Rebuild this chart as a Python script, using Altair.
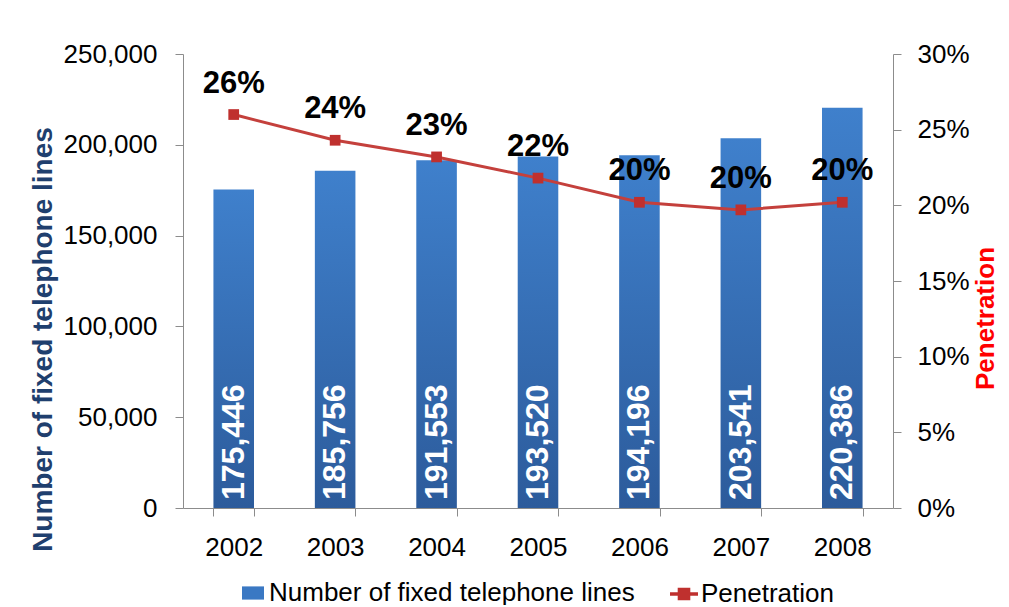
import altair as alt
import pandas as pd

years = ["2002", "2003", "2004", "2005", "2006", "2007", "2008"]
lines = [175446, 185756, 191553, 193520, 194196, 203541, 220386]
penetration = [0.260, 0.243, 0.232, 0.218, 0.202, 0.197, 0.202]

bar_series = "Number of fixed telephone lines"
pen_series = "Penetration"

df = pd.DataFrame({
    "year": years,
    "lines": lines,
    "pen": penetration,
    "s1": [bar_series] * len(years),
    "s2": [pen_series] * len(years),
})

FONT = "Liberation Sans"
BLUE_TOP = "#3f80cc"
BLUE_BOT = "#2c5b9b"
RED = "#c4403c"
RED_MK = "#bf302e"

x_enc = alt.X(
    "year:N",
    title=None,
    scale=alt.Scale(paddingInner=0.6, paddingOuter=0.3),
    axis=alt.Axis(labelAngle=0, tickBand="extent", labelFontSize=26, labelPadding=18,
                  tickSize=8, domainColor="#8c8c8c", tickColor="#8c8c8c", labelColor="#000000",
                  labelFont=FONT, grid=False),
)

left_axis = alt.Axis(
    title="Number of fixed telephone lines", format=",d", values=[0, 50000, 100000, 150000, 200000, 250000],
    labelFontSize=26, labelFont=FONT, labelColor="#000000", labelPadding=18, tickSize=8,
    domainColor="#8c8c8c", tickColor="#8c8c8c", grid=False,
    titleFontSize=28, titleFont=FONT, titleFontWeight="bold", titleColor="#1f3f6e",
    titleAngle=270, titleAlign="center", titleBaseline="middle", titleX=-140, titleY=285,
)
left_scale = alt.Scale(domain=[0, 250000], nice=False)

right_axis = alt.Axis(
    title="Penetration", format=".0%", values=[0, 0.05, 0.10, 0.15, 0.20, 0.25, 0.30], orient="right",
    labelFontSize=26, labelFont=FONT, labelColor="#000000", labelPadding=16, tickSize=8,
    domainColor="#8c8c8c", tickColor="#8c8c8c", grid=False,
    titleFontSize=26, titleFont=FONT, titleFontWeight="bold", titleColor="#ff0000",
    titleAngle=270, titleAlign="center", titleBaseline="middle", titleX=92, titleY=264,
)
right_scale = alt.Scale(domain=[0, 0.30], nice=False)

base = alt.Chart(df)

bars = base.mark_bar(
    fill=alt.Gradient(gradient="linear", x1=0, x2=0, y1=0, y2=1,
                      stops=[alt.GradientStop(offset=0, color=BLUE_TOP),
                             alt.GradientStop(offset=1, color=BLUE_BOT)])
).encode(
    x=x_enc,
    y=alt.Y("lines:Q", axis=left_axis, scale=left_scale),
    color=alt.Color("s1:N", scale=alt.Scale(domain=[bar_series], range=["#3a78c3"]),
                    legend=alt.Legend(title=None, orient="none", legendX=57, legendY=526,
                                      symbolType="M-1,-0.6H1V0.6H-1Z", symbolSize=484,
                                      labelFontSize=26, labelFont=FONT, labelColor="#000000",
                                      labelOffset=3, padding=0, symbolStrokeWidth=0,
                                      labelLimit=1000)),
)

bar_text = base.mark_text(
    angle=270, align="left", baseline="middle", dx=8, fontSize=32, fontWeight="bold",
    color="white", font=FONT,
).encode(
    x=x_enc,
    y=alt.Y(datum=0, axis=left_axis, scale=left_scale),
    text=alt.Text("lines:Q", format=",d"),
)

bar_layer = alt.layer(bars, bar_text)

line = base.mark_line(color=RED, strokeWidth=3).encode(
    x=x_enc,
    y=alt.Y("pen:Q", axis=right_axis, scale=right_scale),
)

pts = base.mark_point(filled=True, shape="square", size=115, opacity=1).encode(
    x=x_enc,
    y=alt.Y("pen:Q", axis=right_axis, scale=right_scale),
    color=alt.Color("s2:N", scale=alt.Scale(domain=[pen_series], range=[RED_MK]),
                    legend=alt.Legend(title=None, orient="none", legendX=487, legendY=526,
                                      symbolType="M-1,-0.12H1V0.12H-1Z M-0.45,-0.45H0.45V0.45H-0.45Z",
                                      symbolSize=784, labelFontSize=26, labelFont=FONT,
                                      labelColor="#000000", labelOffset=3, padding=0,
                                      symbolStrokeWidth=0, labelLimit=1000)),
)

pen_text = base.mark_text(
    baseline="middle", dy=-31, fontSize=31, fontWeight="bold", color="#000000", font=FONT,
).encode(
    x=x_enc,
    y=alt.Y("pen:Q", axis=right_axis, scale=right_scale),
    text=alt.Text("pen:Q", format=".0%"),
)

pen_layer = alt.layer(line, pts, pen_text)

chart = alt.layer(bar_layer, pen_layer).resolve_scale(
    y="independent", color="independent"
).properties(
    width=710,
    height=454,
    autosize=alt.AutoSizeParams(type="none"),
    padding={"left": 175, "top": 46, "right": 108, "bottom": 97},
).configure_view(stroke=None)

chart.save("out.html", embed_options={"renderer": "svg", "actions": False})
